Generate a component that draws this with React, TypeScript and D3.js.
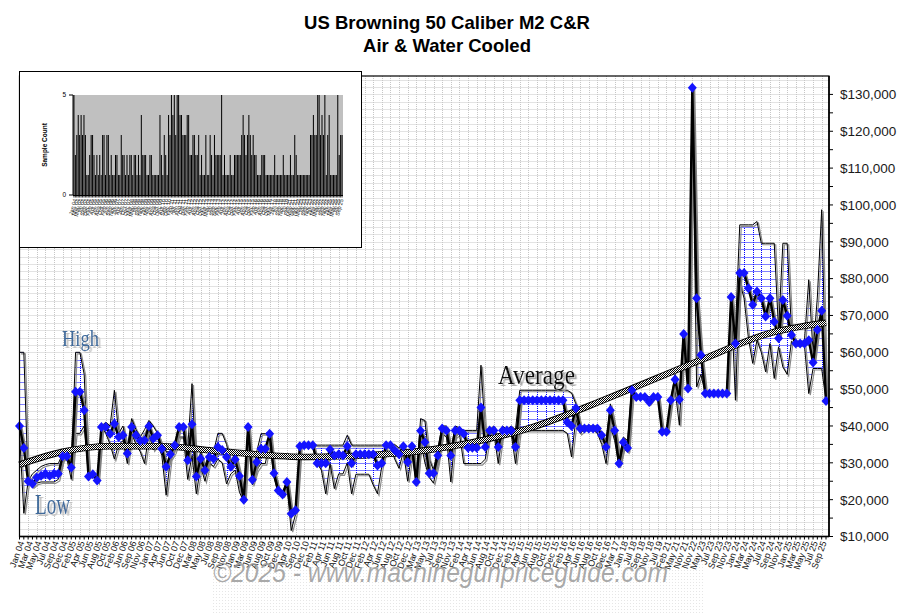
import React, { useEffect, useRef } from "react";
import * as d3 from "d3";

const W = 901;
const H = 613;

const titleLines = ["US Browning 50 Caliber M2 C&R", "Air & Water Cooled"];

// tick labels shown on every other category
const tickLabels = ["Jan 04","Mar 04","May 04","Jul 04","Sep 04","Dec 04","Feb 05","Apr 05","Jun 05","Aug 05","Oct 05","Feb 06","Jun 06","Sep 06","Nov 06","Jan 07","Apr 07","Jun 07","Oct 07","Dec 07","Mar 08","May 08","Jul 08","Sep 08","Nov 08","Jan 09","Mar 09","Jun 09","Aug 09","Oct 09","Dec 09","Apr 10","Sep 10","Dec 10","Feb 11","Apr 11","Jun 11","Aug 11","Oct 11","Dec 11","Feb 12","Apr 12","Jun 12","Aug 12","Oct 12","Dec 12","Mar 13","May 13","Jul 13","Sep 13","Nov 13","Feb 14","Apr 14","Jun 14","Aug 14","Oct 14","Dec 14","Feb 15","Apr 15","Jun 15","Aug 15","Oct 15","Dec 15","Feb 16","Apr 16","Jun 16","Aug 16","Oct 16","Dec 16","Mar 17","Jan 18","Jul 18","Sep 18","Nov 18","Jul 19","Feb 21","May 21","Nov 21","Nov 22","May 23","Jul 23","Sep 23","Nov 23","Jan 24","Mar 24","May 24","Jul 24","Sep 24","Nov 24","Jan 25","Mar 25","May 25","Jul 25","Sep 25"];

// values in thousands of dollars
const avgK = [
  40, 34, 25, 24.3, 26, 26.5, 27, 26.5, 27, 27,
  31.8, 31.8, 28.7, 49.3, 49.3, 44.3, 26.3, 26.9, 25.2, 39.7,
  39.7, 37.9, 40.6, 37, 37.5, 32.5, 39.7, 37.5, 36, 36.1,
  39.9, 36.6, 37.5, 33.8, 28.9, 32.3, 34.8, 39.7, 39.7, 30.7,
  40.5, 26.3, 31.1, 28, 31.6, 31.1, 34.3, 33.5, 31.6, 28.9,
  30.9, 26.4, 20, 39.7, 25.4, 30.2, 33.8, 33.8, 37.9, 27.2,
  22.5, 21.4, 24.8, 16.2, 17.1, 34.5, 34.8, 34.8, 34.8, 29.9,
  29.9, 29.9, 33.6, 32, 32.3, 32, 34.5, 29.9, 32.3, 32.3,
  32.3, 32.3, 32.3, 29.3, 29.9, 34.8, 34.8, 33.4, 32.3, 34.5,
  30.2, 34.5, 24.8, 38.7, 35.6, 27.2, 27.2, 32, 39.3, 38.8,
  32, 38.8, 38.8, 37.9, 34.1, 34.1, 34.1, 45, 34.3, 38.8,
  38.8, 34.3, 38.8, 38.8, 38.8, 34.3, 47, 47, 47, 47,
  47, 47, 47, 47, 47, 47, 47, 41, 40, 44.8,
  39.3, 39.3, 39.3, 39.3, 39.3, 37.5, 34.3, 44.3, 38.8, 29.8,
  35.6, 34, 49.7, 47.9, 47.9, 47.9, 46.5, 47.9, 47.9, 38.4,
  38.4, 47, 52.6, 47.2, 65, 50.2, 131.8, 74.7, 59.3, 48.8,
  48.8, 48.8, 48.8, 48.8, 48.8, 75, 62.4, 81.5, 81.5, 77.4,
  72.9, 76.5, 74.7, 69.7, 74.7, 68.3, 63.8, 74.2, 69.9, 64.7,
  62.4, 62.4, 62.4, 63.3, 57.2, 66.1, 71.3, 46.8
];

const highK = [
  60, 60, 25, 27, 28, 29, 29.5, 29.8, 29.8, 29.8,
  32.5, 33, 29, 60, 60, 54, 26.3, 26.9, 25.2, 40,
  41, 40, 49.7, 38, 40, 34, 42, 39, 37, 39,
  41.5, 40, 38, 35, 33, 33, 35, 40.5, 40, 34,
  51.5, 28, 33, 29, 33, 33, 38, 38, 35, 30,
  33, 28, 21, 40.5, 27, 33, 37.9, 37.9, 38.5, 28,
  23, 22, 25, 17, 18, 34.8, 35, 35, 35, 34.8,
  34.8, 34.8, 34.8, 34.8, 34.8, 34.8, 37.5, 34.8, 34.8, 34.8,
  34.8, 34.8, 34.8, 34.8, 34.8, 35, 35, 35, 34, 35,
  31, 35, 26, 42, 41.5, 31, 28, 34, 40, 40,
  33, 40, 39.5, 38.8, 38.8, 38.8, 38.8, 56.5, 38, 39,
  40, 35, 40, 39, 40, 39, 49.7, 49.7, 49.7, 49.7,
  49.7, 49.7, 49.7, 49.7, 49.7, 49.7, 49.7, 49.7, 49, 46,
  40, 40, 40, 40, 40, 38, 36, 46, 40, 31,
  37, 36, 51, 47.9, 47.9, 48.5, 47.9, 47.9, 47.9, 38.4,
  38.4, 47, 54, 48, 66, 50.2, 132, 74.7, 59.3, 48.8,
  48.8, 48.8, 48.8, 48.8, 48.8, 75.5, 66, 94.6, 94.6, 94.6,
  94.6, 95.5, 89.6, 89.6, 89.6, 89.6, 66, 89.6, 89.6, 66,
  63, 63, 63, 79.7, 60, 75, 98.7, 50
];

const lowK = [
  38, 16.3, 25, 23.5, 24.5, 24.8, 24.8, 24.8, 24.8, 25.5,
  31, 31, 25.5, 38, 38, 40, 26.3, 26.9, 25.2, 39.7,
  38, 35, 31, 35, 36, 29.8, 38, 35, 33, 29.8,
  38, 33.5, 35, 32, 21.2, 31, 33, 37, 37, 25.5,
  32, 21.6, 29, 25, 30, 29, 31, 30, 24.3, 27,
  28, 22, 19.5, 38, 24, 28, 29.8, 29.8, 36, 26,
  21.5, 21, 24, 11.6, 16, 34.5, 34.8, 34.8, 34.8, 29.9,
  28, 21.6, 29.8, 23, 27, 27, 30, 21.6, 26.9, 26.9,
  26.9, 26.9, 24, 21.6, 29, 34.5, 34.5, 31, 28.5, 33,
  25, 33, 24, 36, 30, 26, 24.5, 30, 38, 37,
  24.8, 37, 38, 29.8, 29.8, 29.8, 29.8, 29.8, 31, 38,
  38, 29.8, 38, 38, 38, 29.8, 38.8, 38.8, 38.8, 38.8,
  38.8, 38.8, 38.8, 38.8, 38.8, 38.8, 38.8, 38, 31.6, 42,
  38, 39, 39, 39, 38, 35, 29.8, 40, 36, 29,
  34, 33, 48, 47.9, 47.9, 47.5, 46, 47.9, 47.9, 38.4,
  38.4, 47, 50, 40.2, 63, 50.2, 131.5, 50.6, 54, 48.8,
  48.8, 48.8, 48.8, 48.8, 48.8, 74.5, 47, 79, 74.7, 64,
  57, 63.3, 60, 54.7, 62.4, 52.9, 61.5, 56, 54, 63,
  62, 62, 62, 48.8, 55.6, 55.6, 55.6, 46.8
];

const sampleCount = [
  5,2,3,4,3,4,3,4,3,1,
  1,2,3,3,2,1,2,1,2,1,
  3,3,1,3,3,1,2,1,1,2,
  2,1,1,3,2,2,1,2,1,2,
  2,1,2,2,1,2,1,4,2,2,
  2,1,1,2,2,1,1,1,1,1,
  4,2,1,3,2,1,4,3,5,4,
  5,3,5,5,4,4,3,3,3,4,
  4,2,2,3,3,2,2,3,1,2,
  1,1,3,1,1,3,2,1,3,2,
  2,2,2,5,1,2,1,1,1,2,
  1,1,2,2,2,2,2,3,4,3,
  2,3,4,3,2,3,2,2,1,1,
  1,2,2,2,1,1,1,1,1,1,
  2,1,1,1,1,1,2,1,1,1,
  1,2,1,1,3,2,1,1,1,1,
  1,1,1,1,1,3,3,4,3,3,
  5,5,3,4,3,5,1,3,4,1,
  1,1,1,1,5,2,3,3
];

// trend line read at a few categories (thousands)
const trendIdx = [0, 10, 21, 33, 44, 67, 88, 104, 119, 137, 158, 174, 187];
const trendK = [29.5, 33, 34.5, 34.5, 33.4, 31.6, 32.6, 35.3, 39.7, 47.8, 57.9, 65.2, 68];

const yTicksK = [10, 20, 30, 40, 50, 60, 70, 80, 90, 100, 110, 120, 130];

export default function App() {
  const ref = useRef<SVGSVGElement>(null);

  useEffect(() => {
    const svg = d3.select(ref.current);
    svg.selectAll("*").remove();
    const N = avgK.length;
    const cats = d3.range(N);

    const L = 19.5, R = 829, T = 76, B = 536.5;
    const x = d3.scalePoint<number>().domain(cats).range([L, 826]);
    const y = d3.scaleLinear().domain([10, 135]).range([B, T]);

    const defs = svg.append("defs");
    const chk = defs.append("pattern").attr("id", "chk").attr("patternUnits", "userSpaceOnUse")
      .attr("width", 2).attr("height", 2);
    chk.append("rect").attr("width", 2).attr("height", 2).attr("fill", "#fff");
    chk.append("rect").attr("width", 1).attr("height", 1).attr("fill", "#000");
    chk.append("rect").attr("x", 1).attr("y", 1).attr("width", 1).attr("height", 1).attr("fill", "#000");
    const wm = defs.append("pattern").attr("id", "wmdots").attr("patternUnits", "userSpaceOnUse")
      .attr("width", 3).attr("height", 3);
    wm.append("rect").attr("width", 1).attr("height", 1).attr("fill", "#e6e6e6");
    const mkShadow = (id: string, color: string, dx: number, dy: number) => {
      const f = defs.append("filter").attr("id", id).attr("x", "-20%").attr("y", "-20%").attr("width", "140%").attr("height", "140%");
      f.append("feDropShadow").attr("dx", dx).attr("dy", dy).attr("stdDeviation", 0.4)
        .attr("flood-color", color).attr("flood-opacity", 1);
    };
    mkShadow("shBlue", "#c2c2c2", 2.5, 2);
    mkShadow("shBlack", "#ababab", 2.5, 2);

    svg.append("rect").attr("width", W).attr("height", H).attr("fill", "#fff");

    // watermark background
    svg.append("rect").attr("x", 212).attr("y", 557).attr("width", 493).attr("height", 56).attr("fill", "url(#wmdots)");

    const grid = svg.append("g");
    const hVals = d3.range(12, 135, 2);
    const vIdx = cats.filter((i) => i % 2 === 0 && i > 0);
    const drawGrid = (g: any, color: string) => {
      g.selectAll("line.h").data(hVals).join("line").attr("class", "h")
        .attr("x1", L).attr("x2", R).attr("y1", (d: number) => Math.round(y(d)) + 0.5).attr("y2", (d: number) => Math.round(y(d)) + 0.5)
        .attr("stroke", color).attr("stroke-dasharray", "1,1");
      g.selectAll("line.v").data(vIdx).join("line").attr("class", "v")
        .attr("y1", T).attr("y2", B).attr("x1", (d: number) => Math.round(x(d)!) + 0.5).attr("x2", (d: number) => Math.round(x(d)!) + 0.5)
        .attr("stroke", color).attr("stroke-dasharray", "1,1");
    };
    drawGrid(grid, "#c6c6c6");

    // band
    const area = d3.area<number>().x((i) => x(i)!).y0((i) => y(lowK[i])).y1((i) => y(highK[i]));
    defs.append("clipPath").attr("id", "bandclip").append("path").attr("d", area(cats)!);
    svg.append("path").attr("d", area(cats)!).attr("fill", "#fff");
    const bg = svg.append("g").attr("clip-path", "url(#bandclip)");
    drawGrid(bg, "#0000ff");

    const lineH = d3.line<number>().x((i) => x(i)!).y((i) => y(highK[i]));
    const lineL = d3.line<number>().x((i) => x(i)!).y((i) => y(lowK[i]));
    for (const ln of [lineH, lineL]) {
      svg.append("path").attr("d", ln(cats)!).attr("fill", "none").attr("stroke", "#8a8a8a").attr("stroke-width", 1.2)
        .attr("transform", "translate(1.5,1.5)");
    }
    for (const ln of [lineH, lineL]) {
      svg.append("path").attr("d", ln(cats)!).attr("fill", "none").attr("stroke", "#000").attr("stroke-width", 1);
    }

    // average line
    const lineA = d3.line<number>().x((i) => x(i)!).y((i) => y(avgK[i]));
    svg.append("path").attr("d", lineA(cats)!).attr("fill", "none").attr("stroke", "#808080").attr("stroke-width", 2.4)
      .attr("transform", "translate(1.8,1.5)");
    svg.append("path").attr("d", lineA(cats)!).attr("fill", "none").attr("stroke", "#000").attr("stroke-width", 2.4)
      .attr("stroke-linejoin", "round");

    // trend
    const tline = d3.line<number>().x((d, k) => x(trendIdx[k])!).y((d) => y(d)).curve(d3.curveMonotoneX);
    const td = tline(trendK)!;
    svg.append("path").attr("d", td).attr("fill", "none").attr("stroke", "#000").attr("stroke-width", 6.5);
    svg.append("path").attr("d", td).attr("fill", "none").attr("stroke", "url(#chk)").attr("stroke-width", 4.8);

    // diamonds
    svg.append("g").selectAll("path").data(cats).join("path")
      .attr("d", "M0,-5L4.5,0L0,5L-4.5,0Z")
      .attr("transform", (i) => `translate(${x(i)},${y(avgK[i])})`)
      .attr("fill", "#1414ff");

    // frame
    svg.append("rect").attr("x", L).attr("y", T).attr("width", R - L).attr("height", B - T)
      .attr("fill", "none").attr("stroke", "#000").attr("stroke-width", 1.2);
    svg.append("line").attr("x1", R).attr("x2", R).attr("y1", T).attr("y2", B).attr("stroke", "#000").attr("stroke-width", 1.6);
    svg.append("line").attr("x1", L).attr("x2", R).attr("y1", B).attr("y2", B).attr("stroke", "#000").attr("stroke-width", 1.6);

    // right axis
    const ax = svg.append("g");
    ax.selectAll("line").data(d3.range(10, 135, 5)).join("line")
      .attr("x1", R).attr("x2", R + 4).attr("y1", (d) => y(d)).attr("y2", (d) => y(d)).attr("stroke", "#000");
    ax.selectAll("text").data(yTicksK).join("text")
      .attr("x", 840).attr("y", (d) => y(d)).attr("dy", "0.36em")
      .attr("font-family", "Arial, 'Liberation Sans', sans-serif").attr("font-size", 13.5).attr("fill", "#1a1a1a")
      .text((d) => "$" + d3.format(",")(d * 1000));

    // bottom axis
    const bx = svg.append("g");
    bx.selectAll("line").data(cats).join("line")
      .attr("x1", (i) => x(i)!).attr("x2", (i) => x(i)!).attr("y1", B).attr("y2", B + 3).attr("stroke", "#000");
    bx.selectAll("text").data(tickLabels).join("text")
      .attr("transform", (d, k) => `translate(${x(k * 2)! + 2},${B + 5}) rotate(-70)`)
      .attr("text-anchor", "end").attr("dy", "0.35em")
      .attr("font-family", "Arial, 'Liberation Sans', sans-serif").attr("font-size", 9).attr("fill", "#111")
      .text((d) => d);

    // series labels (shadow via filter)
    const lab = (t: string, lx: number, ly: number, fs: number, tl: number, fill: string, filt: string) => {
      svg.append("text").attr("x", lx).attr("y", ly).attr("font-family", "'Liberation Serif', 'Times New Roman', serif")
        .attr("font-size", fs).attr("textLength", tl).attr("lengthAdjust", "spacingAndGlyphs").attr("fill", fill)
        .attr("filter", `url(#${filt})`).text(t);
    };
    lab("High", 62, 346, 23, 37, "#3f6a9b", "shBlue");
    lab("Low", 35, 514, 30, 35, "#3f6a9b", "shBlue");
    lab("Average", 498, 384, 27, 77, "#111", "shBlack");

    // inset
    const ins = svg.append("g");
    ins.append("rect").attr("x", 19.5).attr("y", 71.5).attr("width", 342).attr("height", 176)
      .attr("fill", "#fff").attr("stroke", "#000");
    const ix = d3.scaleBand<number>().domain(cats).range([73, 343]).padding(0.3);
    const iy = d3.scaleLinear().domain([0, 5]).range([195, 95]);
    ins.append("rect").attr("x", 73).attr("y", 95).attr("width", 270).attr("height", 100).attr("fill", "#c0c0c0");
    ins.selectAll("rect.bar").data(cats).join("rect").attr("class", "bar")
      .attr("x", (i) => ix(i)!).attr("width", ix.bandwidth())
      .attr("y", (i) => iy(sampleCount[i])).attr("height", (i) => 195 - iy(sampleCount[i])).attr("fill", "#000");
    ins.append("line").attr("x1", 73).attr("x2", 73).attr("y1", 95).attr("y2", 195).attr("stroke", "#000");
    ins.append("line").attr("x1", 73).attr("x2", 343).attr("y1", 195.5).attr("y2", 195.5).attr("stroke", "#000");
    ins.selectAll("line.it").data(cats).join("line").attr("class", "it")
      .attr("x1", (i) => ix(i)! + ix.bandwidth() / 2).attr("x2", (i) => ix(i)! + ix.bandwidth() / 2)
      .attr("y1", 195).attr("y2", 197.5).attr("stroke", "#000").attr("stroke-width", 0.8);
    ins.selectAll("text.iy").data([0, 5]).join("text").attr("class", "iy")
      .attr("x", 66).attr("y", (d) => iy(d)).attr("dy", "0.35em").attr("text-anchor", "end")
      .attr("font-family", "Arial, sans-serif").attr("font-size", 6.5).text((d) => d);
    ins.selectAll("line.iyt").data([0, 5]).join("line").attr("class", "iyt")
      .attr("x1", 69).attr("x2", 73).attr("y1", (d) => iy(d)).attr("y2", (d) => iy(d)).attr("stroke", "#000");
    ins.append("text").attr("transform", "translate(47,145) rotate(-90)").attr("text-anchor", "middle")
      .attr("font-family", "Arial, sans-serif").attr("font-size", 6.5).attr("font-weight", "bold").text("Sample Count");
    ins.selectAll("text.ixl").data(tickLabels).join("text").attr("class", "ixl")
      .attr("transform", (d, k) => `translate(${ix(k * 2)! + ix.bandwidth() / 2 + 1},${199}) rotate(-75)`)
      .attr("text-anchor", "end").attr("dy", "0.35em")
      .attr("font-family", "Arial, sans-serif").attr("font-size", 5.5).attr("fill", "#222").text((d) => d);

    // title
    svg.selectAll("text.title").data(titleLines).join("text").attr("class", "title")
      .attr("x", 447).attr("y", (d, k) => 29 + k * 23).attr("text-anchor", "middle")
      .attr("font-family", "Arial, 'Liberation Sans', sans-serif").attr("font-weight", "bold").attr("font-size", 18.5)
      .attr("fill", "#000").text((d) => d);

    // watermark
    svg.append("text").attr("x", 213).attr("y", 582).attr("font-family", "Arial, 'Liberation Sans', sans-serif")
      .attr("font-style", "italic").attr("font-size", 27).attr("textLength", 455).attr("lengthAdjust", "spacingAndGlyphs")
      .attr("fill", "#9a9a9a").attr("fill-opacity", 0.85).text("©2025 - www.machinegunpriceguide.com");
  }, []);

  return (
    <svg ref={ref} width={W} height={H} style={{ position: "absolute", left: 0, top: 0, display: "block" }} />
  );
}
